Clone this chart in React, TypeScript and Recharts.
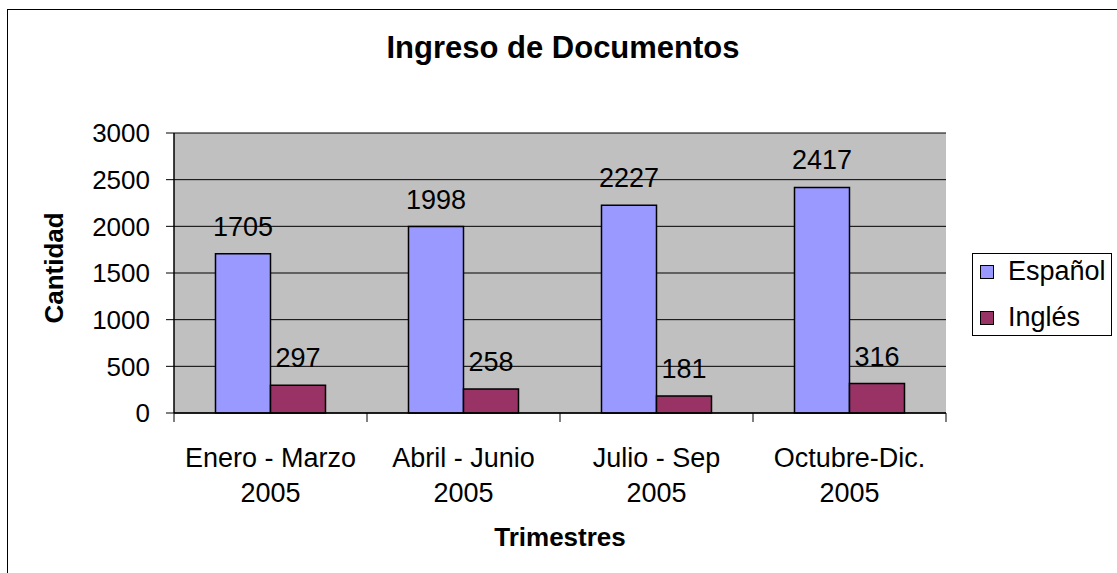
import React from 'react';
import { BarChart, Bar, XAxis, YAxis, CartesianGrid, LabelList } from 'recharts';

const categories = ['Enero - Marzo', 'Abril - Junio', 'Julio - Sep', 'Octubre-Dic.'];
const years = ['2005', '2005', '2005', '2005'];
const espanol = [1705, 1998, 2227, 2417];
const ingles = [297, 258, 181, 316];
const yTicks = [0, 500, 1000, 1500, 2000, 2500, 3000];
const seriesNames = ['Español', 'Inglés'];
const seriesColors = ['#9999FF', '#993366'];

const data = categories.map((c, i) => ({
  name: c,
  year: years[i],
  esp: espanol[i],
  ing: ingles[i],
}));

const FONT = '"Liberation Sans", Arial, sans-serif';

const CategoryTick = (props: any) => {
  const { x, y, payload, index, width, visibleTicksCount } = props;
  const count = visibleTicksCount || categories.length;
  const band = (typeof width === 'number' && width > 0 ? width : 772) / count;
  const left = x - band / 2;
  const right = x + band / 2;
  return (
    <g>
      <line x1={left} x2={left} y1={y} y2={y + 9} stroke="#000" strokeWidth={1} />
      {index === count - 1 && <line x1={right} x2={right} y1={y} y2={y + 9} stroke="#000" strokeWidth={1} />}
      <text x={x} y={y} textAnchor="middle" fontFamily={FONT} fontSize={27} fill="#000">
        <tspan x={x} dy={53.5}>{payload.value}</tspan>
        <tspan x={x} dy={35}>{years[index] ?? '2005'}</tspan>
      </text>
    </g>
  );
};

const LegendBox = () => (
  <div
    style={{
      position: 'absolute',
      left: 972,
      top: 253,
      width: 140,
      height: 83,
      border: '1px solid #000',
      background: '#fff',
      boxSizing: 'border-box',
      fontFamily: FONT,
      fontSize: 27,
    }}
  >
    {seriesNames.map((n, i) => (
      <div
        key={n}
        style={{ position: 'absolute', left: 0, top: i === 0 ? 4 : 50, height: 27, display: 'flex', alignItems: 'center' }}
      >
        <div
          style={{
            width: 14,
            height: 14,
            background: seriesColors[i],
            border: '1.5px solid #000',
            marginLeft: 7,
            marginRight: 14,
            boxSizing: 'border-box',
          }}
        />
        <span style={{ lineHeight: '27px' }}>{n}</span>
      </div>
    ))}
  </div>
);

export default function App() {
  return (
    <div
      style={{
        position: 'absolute',
        left: 0,
        top: 0,
        width: 1117,
        height: 573,
        overflow: 'hidden',
        background: '#fff',
        fontFamily: FONT,
      }}
    >
      <div
        style={{
          position: 'absolute',
          left: 7,
          top: 9,
          width: 1200,
          height: 700,
          border: '1.5px solid #000',
        }}
      />
      <div style={{ position: 'absolute', left: 0, top: 0, width: 1117, height: 573 }}>
        <BarChart
          width={1117}
          height={573}
          data={data}
          margin={{ top: 133, right: 171, bottom: 0, left: 0 }}
          barCategoryGap="21.5%"
          barGap={0}
        >
          <CartesianGrid horizontal vertical={false} stroke="#000" strokeWidth={1} fill="#C0C0C0" fillOpacity={1} />
          <XAxis
            dataKey="name"
            height={160}
            axisLine={{ stroke: '#000', strokeWidth: 1.5 }}
            tickLine={false}
            tickSize={0}
            tickMargin={0}
            interval={0}
            tick={<CategoryTick />}
          />
          <XAxis
            xAxisId="top"
            orientation="top"
            type="number"
            domain={[0, 4]}
            allowDataOverflow
            height={0}
            axisLine={{ stroke: '#808080', strokeWidth: 2.5 }}
            tickLine={false}
            tick={false}
          />
          <YAxis
            width={174}
            domain={[0, 3000]}
            ticks={yTicks}
            interval={0}
            axisLine={{ stroke: '#000', strokeWidth: 1.5 }}
            tickLine={{ stroke: '#000', strokeWidth: 1 }}
            tickSize={8}
            tickMargin={16}
            tick={{ fontFamily: FONT, fontSize: 26, fill: '#000' }}
          />
          <YAxis
            yAxisId="right"
            orientation="right"
            width={0}
            domain={[0, 3000]}
            allowDataOverflow
            axisLine={{ stroke: '#808080', strokeWidth: 2.5 }}
            tickLine={false}
            tick={false}
          />
          <Bar dataKey="esp" name={seriesNames[0]} fill={seriesColors[0]} stroke="#000" strokeWidth={1.5} isAnimationActive={false}>
            <LabelList dataKey="esp" position="top" offset={18} fontFamily={FONT} fontSize={27} fill="#000" />
          </Bar>
          <Bar dataKey="ing" name={seriesNames[1]} fill={seriesColors[1]} stroke="#000" strokeWidth={1.5} isAnimationActive={false}>
            <LabelList dataKey="ing" position="top" offset={18} fontFamily={FONT} fontSize={27} fill="#000" />
          </Bar>
        </BarChart>
      </div>
      <LegendBox />
      <div
        style={{
          position: 'absolute',
          left: 0,
          width: 1126,
          top: 30,
          textAlign: 'center',
          fontWeight: 'bold',
          fontSize: 31,
          lineHeight: '36px',
          color: '#000',
        }}
      >
        Ingreso de Documentos
      </div>
      <div
        style={{
          position: 'absolute',
          left: 0,
          width: 1120,
          top: 522,
          textAlign: 'center',
          fontWeight: 'bold',
          fontSize: 26,
          lineHeight: '30px',
          color: '#000',
        }}
      >
        Trimestres
      </div>
      <svg style={{ position: 'absolute', left: 0, top: 0 }} width={120} height={573}>
        <text
          transform="translate(63,268) rotate(-90)"
          textAnchor="middle"
          fontFamily={FONT}
          fontWeight="bold"
          fontSize={26}
          fill="#000"
        >
          Cantidad
        </text>
      </svg>
    </div>
  );
}
